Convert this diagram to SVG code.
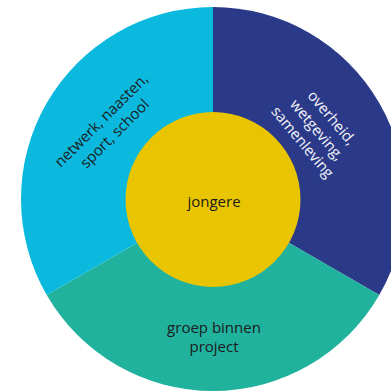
<svg xmlns="http://www.w3.org/2000/svg" width="391" height="392" viewBox="0 0 391 392">
<style>
text{font-family:"Open Sans","Noto Sans","Liberation Sans",sans-serif;font-size:15px;text-anchor:middle}
.dark{fill:#1b1b1b}
.light{fill:#f2f3f8}
</style>
<rect width="391" height="392" fill="#ffffff"/>
<g id="connectors"></g>
<g id="navy-sector">
<path d="M213,199 L213,7 A192,192 0 0 1 379.28,295 Z" fill="#2b3a88"/>
<g transform="translate(317,130) rotate(50)">
<text class="light" x="0" y="-14">overheid,</text>
<text class="light" x="0" y="5">wetgeving,</text>
<text class="light" x="0" y="24">samenleving</text>
</g>
</g>
<g id="teal-sector">
<path d="M213,199 L379.28,295 A192,192 0 0 1 46.72,295 Z" fill="#21b29e"/>
<text class="dark" x="214" y="333">groep binnen</text>
<text class="dark" x="214" y="352">project</text>
</g>
<g id="cyan-sector">
<path d="M213,199 L46.72,295 A192,192 0 0 1 213,7 Z" fill="#0bb9de"/>
<g transform="translate(108,127) rotate(-45)">
<text class="dark" x="0" y="-4.5">netwerk, naasten,</text>
<text class="dark" x="0" y="14.5">sport, school</text>
</g>
</g>
<g id="jongere">
<circle cx="213" cy="199.5" r="87.5" fill="#e8c500"/>
<text class="dark" x="214" y="207">jongere</text>
</g>
</svg>
